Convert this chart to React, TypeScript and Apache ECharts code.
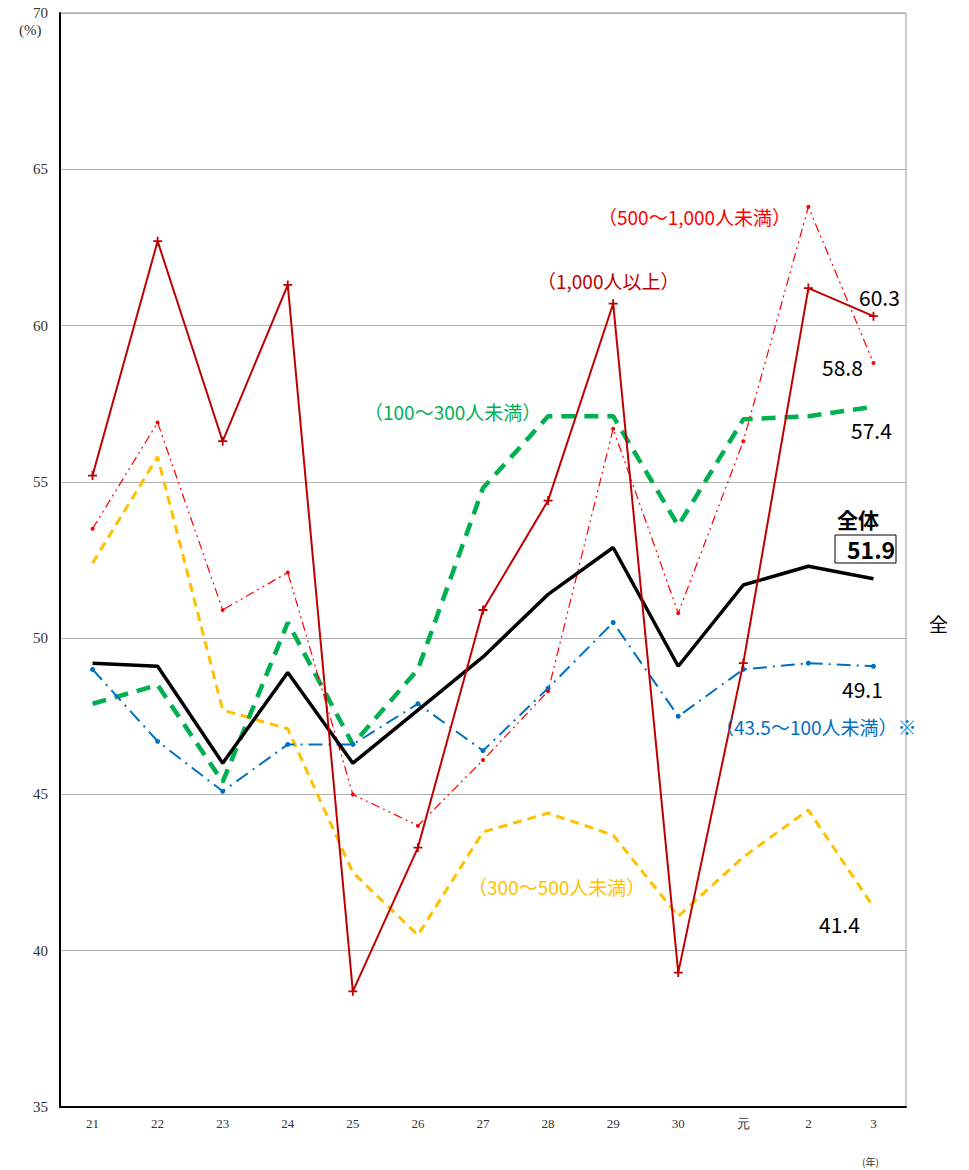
import React, { useEffect, useRef } from "react";
import * as echarts from "echarts";

const categories = ["21", "22", "23", "24", "25", "26", "27", "28", "29", "30", "元", "2", "3"];
const yTicks = [35, 40, 45, 50, 55, 60, 65, 70];

const overall = [49.2, 49.1, 46.0, 48.9, 46.0, 47.7, 49.4, 51.4, 52.9, 49.1, 51.7, 52.3, 51.9];
const over1000 = [55.2, 62.7, 56.3, 61.3, 38.7, 43.3, 50.9, 54.4, 60.7, 39.3, 49.2, 61.2, 60.3];
const from500to1000 = [53.5, 56.9, 50.9, 52.1, 45.0, 44.0, 46.1, 48.3, 56.7, 50.8, 56.3, 63.8, 58.8];
const from300to500 = [52.4, 55.8, 47.7, 47.1, 42.5, 40.5, 43.8, 44.4, 43.7, 41.1, 43.0, 44.5, 41.4];
const from100to300 = [47.9, 48.5, 45.4, 50.5, 46.6, 49.0, 54.8, 57.1, 57.1, 53.6, 57.0, 57.1, 57.4];
const from43to100 = [49.0, 46.7, 45.1, 46.6, 46.6, 47.9, 46.4, 48.4, 50.5, 47.5, 49.0, 49.2, 49.1];

const seriesNames = {
  over1000: "（1,000人以上）",
  from500to1000: "（500～1,000人未満）",
  from100to300: "（100～300人未満）",
  from300to500: "（300～500人未満）",
  from43to100: "（43.5～100人未満）※",
};

const JP = '"Noto Sans CJK JP", "Noto Sans", sans-serif';
const SERIF = '"Liberation Serif", "DejaVu Serif", serif';

export default function App() {
  const ref = useRef<HTMLDivElement>(null);
  useEffect(() => {
    if (!ref.current) return;
    const chart = echarts.init(ref.current, null, { renderer: "svg" });
    const txt = (text: string, x: number, y: number, fill: string, fontSize = 19, fontWeight: any = "normal") => ({
      type: "text",
      x,
      y,
      style: { text, fill, font: `${fontWeight} ${fontSize}px ${JP}`, textVerticalAlign: "middle" },
      z: 100,
    });
    chart.setOption({
      animation: false,
      backgroundColor: "#fff",
      grid: { left: 60, right: 63, top: 13, bottom: 63, show: true, borderColor: "#999", borderWidth: 1 },
      xAxis: {
        type: "category",
        data: categories,
        boundaryGap: true,
        axisLine: { show: true, lineStyle: { color: "#000", width: 2 } },
        axisTick: { show: false },
        axisLabel: { color: "#333", fontFamily: SERIF, fontSize: 13, margin: 10 },
      },
      yAxis: {
        type: "value",
        min: yTicks[0],
        max: yTicks[yTicks.length - 1],
        interval: 5,
        axisLine: { show: true, lineStyle: { color: "#000", width: 2 } },
        axisTick: { show: false },
        axisLabel: { color: "#333", fontFamily: SERIF, fontSize: 15, margin: 12 },
        splitLine: { show: true, lineStyle: { color: "#b0b0b0", width: 1 } },
      },
      graphic: [
        { type: "text", x: 19, y: 30, style: { text: "(%)", fill: "#333", font: `15px ${SERIF}`, textVerticalAlign: "middle" } },
        { type: "text", x: 862, y: 1161, style: { text: "(年)", fill: "#333", font: `10px ${JP}`, textVerticalAlign: "middle" } },
        txt(seriesNames.from500to1000, 598, 216, "#FF0000"),
        txt(seriesNames.over1000, 537, 280, "#C00000"),
        txt(seriesNames.from100to300, 364, 411, "#00B050"),
        txt(seriesNames.from300to500, 468, 886, "#FFC000"),
        txt(seriesNames.from43to100, 715, 726, "#0070C0"),
        txt("60.3", 859, 297, "#000", 21),
        txt("58.8", 822, 367, "#000", 21),
        txt("57.4", 851, 430, "#000", 21),
        txt("49.1", 842, 689, "#000", 21),
        txt("41.4", 819, 924, "#000", 21),
        txt("全体", 837, 519, "#000", 21, "bold"),
        { type: "rect", shape: { x: 835, y: 535, width: 61, height: 28 }, style: { fill: "#fff", stroke: "#000", lineWidth: 1 }, z: 99 },
        txt("51.9", 847, 549, "#000", 23, "bold"),
        txt("全", 929, 623, "#000", 19),
      ],
      series: [
        {
          name: seriesNames.from300to500,
          type: "line",
          data: from300to500,
          symbol: "none",
          lineStyle: { color: "#FFC000", width: 3, type: [9, 6] },
          z: 2,
        },
        {
          name: seriesNames.from100to300,
          type: "line",
          data: from100to300,
          symbol: "none",
          lineStyle: { color: "#00B050", width: 4.5, type: [14, 9] },
          z: 3,
        },
        {
          name: seriesNames.from43to100,
          type: "line",
          data: from43to100,
          symbol: "circle",
          symbolSize: 5,
          itemStyle: { color: "#0070C0" },
          lineStyle: { color: "#0070C0", width: 2, type: [14, 6, 2, 6] },
          z: 4,
        },
        {
          name: seriesNames.from500to1000,
          type: "line",
          data: from500to1000,
          symbol: "circle",
          symbolSize: 4,
          itemStyle: { color: "#FF0000" },
          lineStyle: { color: "#FF0000", width: 1.2, type: [9, 4, 2, 4, 2, 4] },
          z: 5,
        },
        {
          name: "全体",
          type: "line",
          data: overall,
          symbol: "none",
          lineStyle: { color: "#000", width: 3.5 },
          z: 6,
        },
        {
          name: seriesNames.over1000,
          type: "line",
          data: over1000,
          symbol: "path://M4,0H6V10H4ZM0,4H10V6H0Z",
          symbolSize: 9,
          itemStyle: { color: "#C00000" },
          lineStyle: { color: "#C00000", width: 2 },
          z: 7,
        },
      ],
    });
    return () => chart.dispose();
  }, []);
  return <div ref={ref} style={{ position: "fixed", left: 0, top: 0, width: 969, height: 1170, background: "#fff" }} />;
}
